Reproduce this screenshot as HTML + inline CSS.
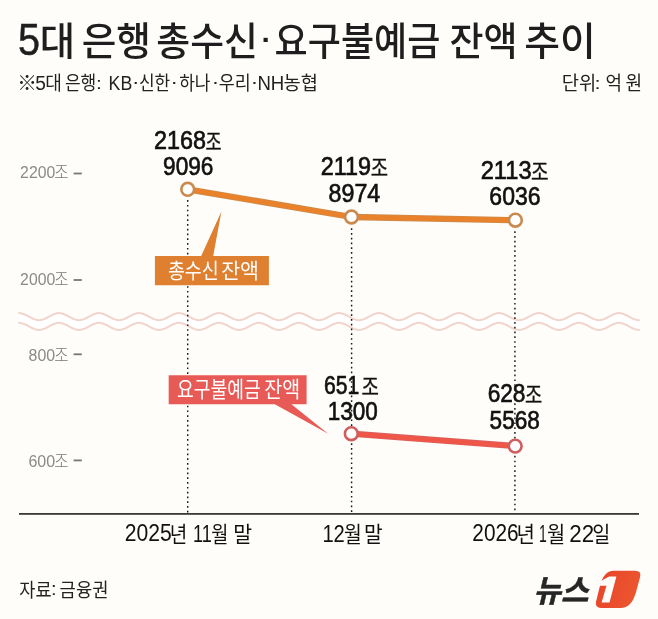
<!DOCTYPE html>
<html lang="ko">
<head>
<meta charset="utf-8">
<title>5대 은행 총수신·요구불예금 잔액 추이</title>
<style>
html,body{margin:0;padding:0;background:#fefdf9;}
body{width:658px;height:619px;overflow:hidden;}
svg{display:block;font-family:"Liberation Sans", "Noto Sans CJK KR", sans-serif;}
text{white-space:pre;}
</style>
</head>
<body>
<svg width="658" height="619" viewBox="0 0 658 619">
<rect width="658" height="619" fill="#fefdf9"/>
<path d="M19.0,312.95 C26.28,312.95 31.72,320.25 39.0,320.25 C46.28,320.25 51.72,312.95 59.0,312.95 C66.28,312.95 71.72,320.25 79.0,320.25 C86.28,320.25 91.72,312.95 99.0,312.95 C106.28,312.95 111.72,320.25 119.0,320.25 C126.28,320.25 131.72,312.95 139.0,312.95 C146.28,312.95 151.72,320.25 159.0,320.25 C166.28,320.25 171.72,312.95 179.0,312.95 C186.28,312.95 191.72,320.25 199.0,320.25 C206.28,320.25 211.72,312.95 219.0,312.95 C226.28,312.95 231.72,320.25 239.0,320.25 C246.28,320.25 251.72,312.95 259.0,312.95 C266.28,312.95 271.72,320.25 279.0,320.25 C286.28,320.25 291.72,312.95 299.0,312.95 C306.28,312.95 311.72,320.25 319.0,320.25 C326.28,320.25 331.72,312.95 339.0,312.95 C346.28,312.95 351.72,320.25 359.0,320.25 C366.28,320.25 371.72,312.95 379.0,312.95 C386.28,312.95 391.72,320.25 399.0,320.25 C406.28,320.25 411.72,312.95 419.0,312.95 C426.28,312.95 431.72,320.25 439.0,320.25 C446.28,320.25 451.72,312.95 459.0,312.95 C466.28,312.95 471.72,320.25 479.0,320.25 C486.28,320.25 491.72,312.95 499.0,312.95 C506.28,312.95 511.72,320.25 519.0,320.25 C526.28,320.25 531.72,312.95 539.0,312.95 C546.28,312.95 551.72,320.25 559.0,320.25 C566.28,320.25 571.72,312.95 579.0,312.95 C586.28,312.95 591.72,320.25 599.0,320.25 C606.28,320.25 611.72,312.95 619.0,312.95 C626.28,312.95 631.72,320.25 639.0,320.25 L639.0,330.05 C631.72,330.05 626.28,322.75 619.0,322.75 C611.72,322.75 606.28,330.05 599.0,330.05 C591.72,330.05 586.28,322.75 579.0,322.75 C571.72,322.75 566.28,330.05 559.0,330.05 C551.72,330.05 546.28,322.75 539.0,322.75 C531.72,322.75 526.28,330.05 519.0,330.05 C511.72,330.05 506.28,322.75 499.0,322.75 C491.72,322.75 486.28,330.05 479.0,330.05 C471.72,330.05 466.28,322.75 459.0,322.75 C451.72,322.75 446.28,330.05 439.0,330.05 C431.72,330.05 426.28,322.75 419.0,322.75 C411.72,322.75 406.28,330.05 399.0,330.05 C391.72,330.05 386.28,322.75 379.0,322.75 C371.72,322.75 366.28,330.05 359.0,330.05 C351.72,330.05 346.28,322.75 339.0,322.75 C331.72,322.75 326.28,330.05 319.0,330.05 C311.72,330.05 306.28,322.75 299.0,322.75 C291.72,322.75 286.28,330.05 279.0,330.05 C271.72,330.05 266.28,322.75 259.0,322.75 C251.72,322.75 246.28,330.05 239.0,330.05 C231.72,330.05 226.28,322.75 219.0,322.75 C211.72,322.75 206.28,330.05 199.0,330.05 C191.72,330.05 186.28,322.75 179.0,322.75 C171.72,322.75 166.28,330.05 159.0,330.05 C151.72,330.05 146.28,322.75 139.0,322.75 C131.72,322.75 126.28,330.05 119.0,330.05 C111.72,330.05 106.28,322.75 99.0,322.75 C91.72,322.75 86.28,330.05 79.0,330.05 C71.72,330.05 66.28,322.75 59.0,322.75 C51.72,322.75 46.28,330.05 39.0,330.05 C31.72,330.05 26.28,322.75 19.0,322.75 Z" fill="#ffffff"/>
<path d="M19.0,312.95 C26.28,312.95 31.72,320.25 39.0,320.25 C46.28,320.25 51.72,312.95 59.0,312.95 C66.28,312.95 71.72,320.25 79.0,320.25 C86.28,320.25 91.72,312.95 99.0,312.95 C106.28,312.95 111.72,320.25 119.0,320.25 C126.28,320.25 131.72,312.95 139.0,312.95 C146.28,312.95 151.72,320.25 159.0,320.25 C166.28,320.25 171.72,312.95 179.0,312.95 C186.28,312.95 191.72,320.25 199.0,320.25 C206.28,320.25 211.72,312.95 219.0,312.95 C226.28,312.95 231.72,320.25 239.0,320.25 C246.28,320.25 251.72,312.95 259.0,312.95 C266.28,312.95 271.72,320.25 279.0,320.25 C286.28,320.25 291.72,312.95 299.0,312.95 C306.28,312.95 311.72,320.25 319.0,320.25 C326.28,320.25 331.72,312.95 339.0,312.95 C346.28,312.95 351.72,320.25 359.0,320.25 C366.28,320.25 371.72,312.95 379.0,312.95 C386.28,312.95 391.72,320.25 399.0,320.25 C406.28,320.25 411.72,312.95 419.0,312.95 C426.28,312.95 431.72,320.25 439.0,320.25 C446.28,320.25 451.72,312.95 459.0,312.95 C466.28,312.95 471.72,320.25 479.0,320.25 C486.28,320.25 491.72,312.95 499.0,312.95 C506.28,312.95 511.72,320.25 519.0,320.25 C526.28,320.25 531.72,312.95 539.0,312.95 C546.28,312.95 551.72,320.25 559.0,320.25 C566.28,320.25 571.72,312.95 579.0,312.95 C586.28,312.95 591.72,320.25 599.0,320.25 C606.28,320.25 611.72,312.95 619.0,312.95 C626.28,312.95 631.72,320.25 639.0,320.25" fill="none" stroke="#f1d5cc" stroke-width="1.9" stroke-linecap="round"/>
<path d="M19.0,322.75 C26.28,322.75 31.72,330.05 39.0,330.05 C46.28,330.05 51.72,322.75 59.0,322.75 C66.28,322.75 71.72,330.05 79.0,330.05 C86.28,330.05 91.72,322.75 99.0,322.75 C106.28,322.75 111.72,330.05 119.0,330.05 C126.28,330.05 131.72,322.75 139.0,322.75 C146.28,322.75 151.72,330.05 159.0,330.05 C166.28,330.05 171.72,322.75 179.0,322.75 C186.28,322.75 191.72,330.05 199.0,330.05 C206.28,330.05 211.72,322.75 219.0,322.75 C226.28,322.75 231.72,330.05 239.0,330.05 C246.28,330.05 251.72,322.75 259.0,322.75 C266.28,322.75 271.72,330.05 279.0,330.05 C286.28,330.05 291.72,322.75 299.0,322.75 C306.28,322.75 311.72,330.05 319.0,330.05 C326.28,330.05 331.72,322.75 339.0,322.75 C346.28,322.75 351.72,330.05 359.0,330.05 C366.28,330.05 371.72,322.75 379.0,322.75 C386.28,322.75 391.72,330.05 399.0,330.05 C406.28,330.05 411.72,322.75 419.0,322.75 C426.28,322.75 431.72,330.05 439.0,330.05 C446.28,330.05 451.72,322.75 459.0,322.75 C466.28,322.75 471.72,330.05 479.0,330.05 C486.28,330.05 491.72,322.75 499.0,322.75 C506.28,322.75 511.72,330.05 519.0,330.05 C526.28,330.05 531.72,322.75 539.0,322.75 C546.28,322.75 551.72,330.05 559.0,330.05 C566.28,330.05 571.72,322.75 579.0,322.75 C586.28,322.75 591.72,330.05 599.0,330.05 C606.28,330.05 611.72,322.75 619.0,322.75 C626.28,322.75 631.72,330.05 639.0,330.05" fill="none" stroke="#f1d5cc" stroke-width="1.9" stroke-linecap="round"/>
<rect x="19" y="513" width="620" height="1.8" fill="#3a3a3a"/>
<text transform="translate(153.93,148.62) scale(0.9197,1)" font-size="25.42" font-weight="400" fill="#111" stroke="#111" stroke-width="0.65">2168</text>
<text transform="translate(205.54,149.52) scale(0.7834,1)" font-size="22.36" font-weight="400" fill="#111" stroke="#111" stroke-width="0.3">조</text>
<text transform="translate(163.06,174.92) scale(0.8905,1)" font-size="25.42" font-weight="400" fill="#111" stroke="#111" stroke-width="0.65">9096</text>
<text transform="translate(320.73,175.42) scale(0.9261,1)" font-size="25.28" font-weight="400" fill="#111" stroke="#111" stroke-width="0.65">2119</text>
<text transform="translate(370.78,176.32) scale(0.8425,1)" font-size="22.36" font-weight="400" fill="#111" stroke="#111" stroke-width="0.3">조</text>
<text transform="translate(328.57,202.02) scale(0.9199,1)" font-size="25.28" font-weight="400" fill="#111" stroke="#111" stroke-width="0.65">8974</text>
<text transform="translate(480.72,178.72) scale(0.9298,1)" font-size="25.42" font-weight="400" fill="#111" stroke="#111" stroke-width="0.65">2113</text>
<text transform="translate(530.97,179.62) scale(0.8532,1)" font-size="22.36" font-weight="400" fill="#111" stroke="#111" stroke-width="0.3">조</text>
<text transform="translate(489.34,205.22) scale(0.9051,1)" font-size="25.42" font-weight="400" fill="#111" stroke="#111" stroke-width="0.65">6036</text>
<text transform="translate(324.01,393.62) scale(0.8378,1)" font-size="25.28" font-weight="400" fill="#111" stroke="#111" stroke-width="0.65">651</text>
<text transform="translate(361.48,394.52) scale(0.8478,1)" font-size="22.36" font-weight="400" fill="#111" stroke="#111" stroke-width="0.3">조</text>
<text transform="translate(327.69,419.72) scale(0.8846,1)" font-size="25.42" font-weight="400" fill="#111" stroke="#111" stroke-width="0.65">1300</text>
<text transform="translate(487.66,402.42) scale(0.8973,1)" font-size="25.28" font-weight="400" fill="#111" stroke="#111" stroke-width="0.65">628</text>
<text transform="translate(524.99,403.32) scale(0.8371,1)" font-size="22.36" font-weight="400" fill="#111" stroke="#111" stroke-width="0.3">조</text>
<text transform="translate(489.59,428.52) scale(0.8931,1)" font-size="25.28" font-weight="400" fill="#111" stroke="#111" stroke-width="0.65">5568</text>
<line x1="187.7" y1="200.1" x2="187.7" y2="513" stroke="#1a1a1a" stroke-width="1.45" stroke-dasharray="1.7 3.08"/>
<line x1="351.6" y1="228.2" x2="351.6" y2="513" stroke="#1a1a1a" stroke-width="1.45" stroke-dasharray="1.7 3.08"/>
<line x1="514.9" y1="231.2" x2="514.9" y2="513" stroke="#1a1a1a" stroke-width="1.45" stroke-dasharray="1.7 3.08"/>
<polyline points="187.7,189.3 351.5,217.0 515.4,220.2" fill="none" stroke="#cf8a48" stroke-width="6.3" stroke-linejoin="round"/>
<polyline points="187.7,189.3 351.5,217.0 515.4,220.2" fill="none" stroke="#e9822a" stroke-width="4.5" stroke-linejoin="round"/>
<polyline points="351.3,433.7 515.2,446.1" fill="none" stroke="#d9605c" stroke-width="6.3"/>
<polyline points="351.3,433.7 515.2,446.1" fill="none" stroke="#f05648" stroke-width="4.5"/>
<circle cx="187.7" cy="189.3" r="6.4" fill="#fff" stroke="#c98a4f" stroke-width="2.6"/>
<circle cx="351.5" cy="217.0" r="6.4" fill="#fff" stroke="#c98a4f" stroke-width="2.6"/>
<circle cx="515.4" cy="220.2" r="6.4" fill="#fff" stroke="#c98a4f" stroke-width="2.6"/>
<circle cx="351.3" cy="433.7" r="6.4" fill="#fff" stroke="#cf5f5e" stroke-width="2.6"/>
<circle cx="515.2" cy="446.1" r="6.4" fill="#fff" stroke="#cf5f5e" stroke-width="2.6"/>
<path d="M154.9,256 H201.2 L221.4,211.4 L213.2,256 H268.9 V285.3 H154.9 Z" fill="#df7f30"/>
<path d="M168.7,375.3 H306.6 V404.3 H291.4 L328.2,433.8 L274.8,404.3 H168.7 Z" fill="#e85a56"/>
<rect x="73.6" y="172.6" width="8.2" height="1.8" fill="#777"/>
<rect x="73.6" y="279.1" width="8.2" height="1.8" fill="#777"/>
<rect x="73.6" y="353.4" width="8.2" height="1.8" fill="#777"/>
<rect x="73.6" y="459.5" width="8.2" height="1.8" fill="#777"/>
<defs><linearGradient id="lg" x1="0" y1="0" x2="1" y2="0.3"><stop offset="0" stop-color="#e6442a"/><stop offset="1" stop-color="#ec552f"/></linearGradient></defs>
<path d="M613.7,570.7 H635.2 Q641.6,570.7 640.1,577 L636.2,591.4 Q631.8,608 620.5,608 H601.2 Q594.6,608 596.1,601.5 L599.8,586.5 Q603.6,570.7 613.7,570.7 Z" fill="url(#lg)"/>
<path d="M616.4,576.6 H609.2 L600.8,581 L599.4,585.7 H606.5 L601.6,602.5 H609.5 Z" fill="#fefdf9"/>
<text transform="translate(18.04,55.11) scale(0.9047,1)" font-size="43.86" font-weight="400" fill="#1e1e1e" stroke="#1e1e1e" stroke-width="0.5">5</text>
<text transform="translate(39.73,54.80) scale(0.9841,1)" font-size="39.00" font-weight="500" fill="#1e1e1e">대</text>
<text transform="translate(81.72,54.80) scale(0.9650,1)" font-size="39.00" font-weight="500" fill="#1e1e1e">은행</text>
<text transform="translate(156.36,54.80) scale(0.9441,1)" font-size="39.00" font-weight="500" fill="#1e1e1e">총수신</text>
<text transform="translate(258.37,51.10) scale(1.1640,1)" font-size="38.18" font-weight="500" fill="#1e1e1e">·</text>
<text transform="translate(274.60,54.80) scale(0.9248,1)" font-size="39.00" font-weight="500" fill="#1e1e1e">요구불예금</text>
<text transform="translate(449.42,54.80) scale(0.9487,1)" font-size="39.00" font-weight="500" fill="#1e1e1e">잔액</text>
<text transform="translate(524.25,54.80) scale(0.9980,1)" font-size="39.00" font-weight="500" fill="#1e1e1e">추이</text>
<text transform="translate(17.14,89.89) scale(1.0000,1)" font-size="19.72" font-weight="300" fill="#222">※</text>
<text transform="translate(35.23,89.79) scale(0.9119,1)" font-size="21.00" font-weight="400" fill="#222">5</text>
<text transform="translate(45.15,89.70) scale(0.9286,1)" font-size="19.50" font-weight="400" fill="#222">대</text>
<text transform="translate(64.95,89.70) scale(0.8739,1)" font-size="19.50" font-weight="400" fill="#222">은행</text>
<text transform="translate(96.11,88.90) scale(1.2506,1)" font-size="16.79" font-weight="400" fill="#222">:</text>
<text transform="translate(108.58,89.80) scale(0.8447,1)" font-size="21.01" font-weight="400" fill="#222">KB</text>
<text transform="translate(131.93,88.00) scale(1.2222,1)" font-size="18.18" font-weight="400" fill="#222">·</text>
<text transform="translate(138.98,89.70) scale(0.8724,1)" font-size="19.50" font-weight="400" fill="#222">신한</text>
<text transform="translate(170.53,88.00) scale(1.2222,1)" font-size="18.18" font-weight="400" fill="#222">·</text>
<text transform="translate(179.25,89.70) scale(0.8712,1)" font-size="19.50" font-weight="400" fill="#222">하나</text>
<text transform="translate(211.63,88.00) scale(1.2222,1)" font-size="18.18" font-weight="400" fill="#222">·</text>
<text transform="translate(218.83,89.70) scale(0.8897,1)" font-size="19.50" font-weight="400" fill="#222">우리</text>
<text transform="translate(250.73,88.00) scale(1.2222,1)" font-size="18.18" font-weight="400" fill="#222">·</text>
<text transform="translate(257.41,89.80) scale(0.8848,1)" font-size="21.01" font-weight="400" fill="#222">NH</text>
<text transform="translate(283.57,89.70) scale(0.9577,1)" font-size="19.50" font-weight="400" fill="#222">농협</text>
<text transform="translate(561.82,89.70) scale(0.9592,1)" font-size="19.50" font-weight="400" fill="#222">단위</text>
<text transform="translate(594.42,88.90) scale(1.3101,1)" font-size="16.79" font-weight="400" fill="#222">:</text>
<text transform="translate(605.62,89.70) scale(0.9203,1)" font-size="19.50" font-weight="400" fill="#222">억</text>
<text transform="translate(625.50,89.70) scale(0.9244,1)" font-size="19.50" font-weight="400" fill="#222">원</text>
<text transform="translate(20.11,178.34) scale(0.9573,1)" font-size="16.48" font-weight="400" fill="#8a8a8a">2200</text>
<text transform="translate(54.17,179.40) scale(0.8569,1)" font-size="18.09" font-weight="300" fill="#777">조</text>
<text transform="translate(20.11,285.04) scale(0.9573,1)" font-size="16.48" font-weight="400" fill="#8a8a8a">2000</text>
<text transform="translate(54.17,286.10) scale(0.8569,1)" font-size="18.09" font-weight="300" fill="#777">조</text>
<text transform="translate(28.56,361.03) scale(0.9337,1)" font-size="17.04" font-weight="400" fill="#8a8a8a">800</text>
<text transform="translate(54.17,362.10) scale(0.8569,1)" font-size="18.09" font-weight="300" fill="#777">조</text>
<text transform="translate(28.40,467.04) scale(0.9717,1)" font-size="16.48" font-weight="400" fill="#8a8a8a">600</text>
<text transform="translate(54.17,468.10) scale(0.8569,1)" font-size="18.09" font-weight="300" fill="#777">조</text>
<text transform="translate(167.88,278.00) scale(0.8794,1)" font-size="21.00" font-weight="400" fill="#fff">총수신</text>
<text transform="translate(221.17,278.00) scale(0.9807,1)" font-size="21.00" font-weight="400" fill="#fff">잔액</text>
<text transform="translate(176.89,397.10) scale(0.8397,1)" font-size="21.70" font-weight="400" fill="#fff">요구불예금</text>
<text transform="translate(264.32,397.10) scale(0.8997,1)" font-size="21.70" font-weight="400" fill="#fff">잔액</text>
<text transform="translate(124.74,541.47) scale(0.9036,1)" font-size="23.38" font-weight="400" fill="#111">2025</text>
<text transform="translate(169.70,541.70) scale(0.8809,1)" font-size="21.60" font-weight="400" fill="#111">년</text>
<text transform="translate(193.05,541.70) scale(0.7537,1)" font-size="24.06" font-weight="400" fill="#111">11</text>
<text transform="translate(211.37,541.70) scale(0.8598,1)" font-size="21.60" font-weight="400" fill="#111">월</text>
<text transform="translate(233.35,541.70) scale(0.9494,1)" font-size="21.60" font-weight="400" fill="#111">말</text>
<text transform="translate(322.38,541.70) scale(0.8520,1)" font-size="23.71" font-weight="400" fill="#111">12</text>
<text transform="translate(344.03,541.70) scale(0.8959,1)" font-size="21.60" font-weight="400" fill="#111">월</text>
<text transform="translate(363.88,541.70) scale(0.9376,1)" font-size="21.60" font-weight="400" fill="#111">말</text>
<text transform="translate(472.36,541.47) scale(0.8916,1)" font-size="23.38" font-weight="400" fill="#111">2026</text>
<text transform="translate(516.60,541.70) scale(0.9259,1)" font-size="21.60" font-weight="400" fill="#111">년</text>
<text transform="translate(539.08,541.70) scale(0.5800,1)" font-size="24.06" font-weight="400" fill="#111">1</text>
<text transform="translate(547.01,541.70) scale(0.9139,1)" font-size="21.60" font-weight="400" fill="#111">월</text>
<text transform="translate(569.28,541.70) scale(0.9436,1)" font-size="23.71" font-weight="400" fill="#111">22</text>
<text transform="translate(592.23,541.70) scale(0.9074,1)" font-size="21.60" font-weight="400" fill="#111">일</text>
<text transform="translate(19.30,597.30) scale(0.8860,1)" font-size="19.80" font-weight="400" fill="#222">자료</text>
<text transform="translate(51.10,595.20) scale(1.0392,1)" font-size="19.25" font-weight="400" fill="#222">:</text>
<text transform="translate(59.61,597.30) scale(0.8940,1)" font-size="19.80" font-weight="400" fill="#222">금융권</text>
<text transform="translate(533.45,601.84) scale(0.9568,1)" font-size="31.25" font-weight="700" fill="#262626" stroke="#262626" stroke-width="0.5" font-style="italic">뉴스</text>
</svg>
</body>
</html>
